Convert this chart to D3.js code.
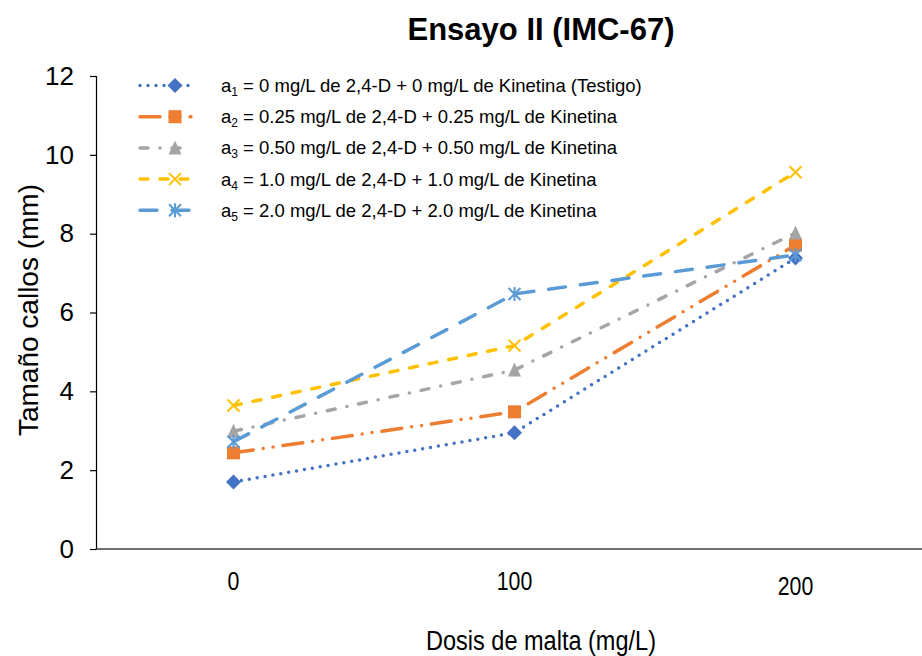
<!DOCTYPE html>
<html>
<head>
<meta charset="utf-8">
<script src="https://cdn.jsdelivr.net/npm/d3@7"></script>
<style>
  body { margin: 0; background: #fff; }
  text { font-family: "Liberation Sans", Arial, sans-serif; fill: #000; }
</style>
</head>
<body>
<div id="chart"></div>
<script>
// data
var doses = ["0", "100", "200"];
var yTicks = [0, 2, 4, 6, 8, 10, 12];
var a1 = [1.70, 2.95, 7.38];
var a2 = [2.44, 3.48, 7.71];
var a3 = [2.99, 4.54, 8.02];
var a4 = [3.64, 5.16, 9.56];
var a5 = [2.72, 6.47, 7.46];
var seriesSub = ["1", "2", "3", "4", "5"];
var seriesText = [
  " = 0 mg/L de 2,4-D + 0 mg/L de Kinetina (Testigo)",
  " = 0.25 mg/L de 2,4-D + 0.25 mg/L de Kinetina",
  " = 0.50 mg/L de 2,4-D + 0.50 mg/L de Kinetina",
  " = 1.0 mg/L de 2,4-D + 1.0 mg/L de Kinetina",
  " = 2.0 mg/L de 2,4-D + 2.0 mg/L de Kinetina"
];

var W = 922, H = 656;
var plotLeft = 96, plotTop = 76, plotBottom = 549;

var colors = ["#4472C4", "#ED7D31", "#A5A5A5", "#FFC000", "#5B9BD5"];
var dashes = ["0 8", "20 10 0 10 0 10", "8 12 0 12", "8 12", "17 15"];
var markers = ["diamond", "square", "triangle", "x", "star"];

var series = [a1, a2, a3, a4, a5].map(function (v, i) {
  return {values: v, color: colors[i], dash: dashes[i], marker: markers[i], sub: seriesSub[i], text: seriesText[i]};
});

var svg = d3.select("#chart").append("svg")
  .attr("width", W)
  .attr("height", H);

var x = d3.scaleBand()
  .domain(doses)
  .range([93, 936]);

var y = d3.scaleLinear()
  .domain([0, 12])
  .range([plotBottom, plotTop]);

// y axis
var yAxis = svg.append("g")
  .attr("transform", "translate(" + plotLeft + ",0)")
  .call(d3.axisLeft(y).tickValues(yTicks).tickSize(6).tickSizeOuter(6));
yAxis.select(".domain").attr("stroke", "#000").attr("stroke-width", 1.2);
yAxis.selectAll(".tick line").attr("stroke", "#000").attr("stroke-width", 1.2);
yAxis.selectAll(".tick text")
  .attr("x", -22)
  .attr("font-size", "26px")
  .attr("font-family", "Liberation Sans, Arial, sans-serif");

// x axis
var xAxis = svg.append("g")
  .attr("transform", "translate(0," + plotBottom + ")")
  .call(d3.axisBottom(x).tickSize(0));
xAxis.select(".domain").remove();
xAxis.selectAll(".tick text")
  .attr("y", function (d, i) { return i == 2 ? 46 : 41; })
  .attr("dy", 0)
  .attr("transform", "scale(0.82,1)")
  .attr("font-size", "26px")
  .attr("font-family", "Liberation Sans, Arial, sans-serif");
svg.append("line")
  .attr("x1", plotLeft).attr("x2", W)
  .attr("y1", plotBottom).attr("y2", plotBottom)
  .attr("stroke", "#404040")
  .attr("stroke-width", 1.6);

// marker shapes
function drawMarker(g, type, color) {
  var s = 6.5;
  if (type == "diamond") {
    g.append("path").attr("d", "M0," + (-s - 1) + "L" + (s + 1) + ",0L0," + (s + 1) + "L" + (-s - 1) + ",0Z").attr("fill", color);
  } else if (type == "square") {
    g.append("rect").attr("x", -s).attr("y", -s).attr("width", 2 * s).attr("height", 2 * s).attr("fill", color);
  } else if (type == "triangle") {
    g.append("path").attr("d", "M0," + (-s - 1) + "L" + s + "," + (s) + "L" + (-s) + "," + (s) + "Z").attr("fill", color);
  } else if (type == "x") {
    g.append("path").attr("d", "M-6,-6L6,6M-6,6L6,-6").attr("stroke", color).attr("stroke-width", 2).attr("fill", "none");
  } else if (type == "star") {
    g.append("path").attr("d", "M-6,-6L6,6M-6,6L6,-6M0,-7L0,7").attr("stroke", color).attr("stroke-width", 2).attr("fill", "none");
  }
}

var line = d3.line()
  .x(function (d, i) { return x(doses[i]) + x.bandwidth() / 2; })
  .y(function (d) { return y(d); });

series.forEach(function (s) {
  svg.append("path")
    .datum(s.values)
    .attr("d", line)
    .attr("fill", "none")
    .attr("stroke", s.color)
    .attr("stroke-width", 3.5)
    .attr("stroke-linecap", "round")
    .attr("stroke-dasharray", s.dash);
  s.values.forEach(function (v, i) {
    var g = svg.append("g")
      .attr("transform", "translate(" + (x(doses[i]) + x.bandwidth() / 2) + "," + y(v) + ")");
    drawMarker(g, s.marker, s.color);
  });
});

// legend
var legend = svg.append("g");
series.forEach(function (s, i) {
  var ly = 85.5 + i * 31.2;
  legend.append("line")
    .attr("x1", 140).attr("x2", 191)
    .attr("y1", ly).attr("y2", ly)
    .attr("stroke", s.color)
    .attr("stroke-width", 3.5)
    .attr("stroke-linecap", "round")
    .attr("stroke-dasharray", s.dash);
  var g = legend.append("g").attr("transform", "translate(175," + ly + ")");
  drawMarker(g, s.marker, s.color);
  var t = legend.append("text")
    .attr("x", 221)
    .attr("y", ly + 6.5)
    .attr("font-size", "18.5px");
  t.append("tspan").text("a");
  t.append("tspan").attr("font-size", "12px").attr("dy", 4).text(s.sub);
  t.append("tspan").attr("dy", -4).text(s.text);
});

// title and axis labels
svg.append("text")
  .attr("x", 541).attr("y", 40)
  .attr("text-anchor", "middle")
  .attr("font-size", "31px")
  .attr("font-weight", "bold")
  .text("Ensayo II (IMC-67)");

svg.append("g")
  .attr("transform", "translate(541,650)")
  .append("text")
  .attr("transform", "scale(0.84,1)")
  .attr("text-anchor", "middle")
  .attr("font-size", "28px")
  .text("Dosis de malta (mg/L)");

svg.append("text")
  .attr("transform", "translate(38,310) rotate(-90)")
  .attr("text-anchor", "middle")
  .attr("font-size", "28px")
  .text("Tamaño callos (mm)");
</script>
</body>
</html>
